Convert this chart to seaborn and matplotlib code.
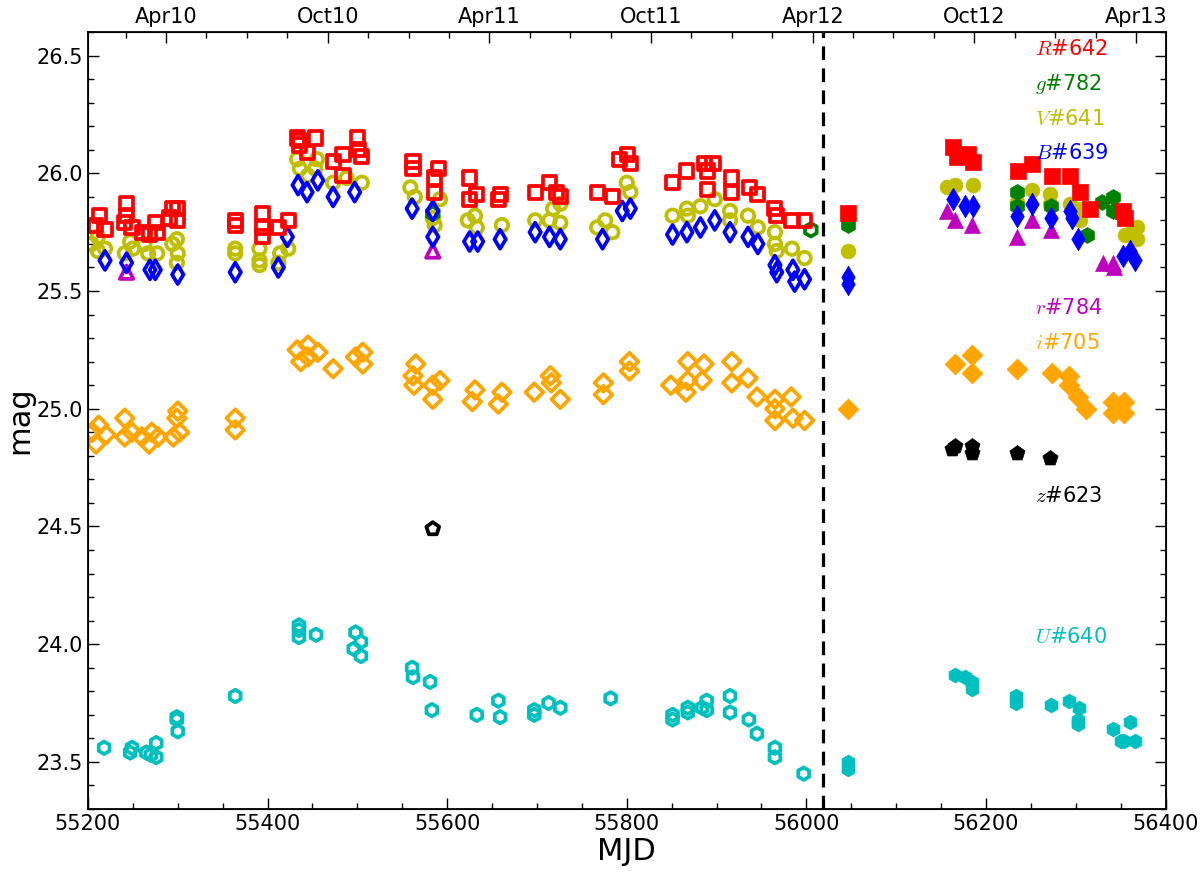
import numpy as np
import pandas as pd
import matplotlib
matplotlib.use("Agg")
import matplotlib.pyplot as plt
import seaborn as sns
from matplotlib.ticker import MultipleLocator, FixedLocator

plt.rcParams['mathtext.fontset'] = 'cm'
plt.rcParams['font.family'] = ['DejaVu Sans']

# ---------------- data ----------------
R_mjd = [55208, 55213, 55219, 55241, 55243, 55243, 55249, 55261, 55269, 55275, 55277, 55291, 55294, 55300, 55300,
         55364, 55364, 55394, 55394, 55394, 55412, 55423, 55433, 55436, 55436, 55444, 55453, 55473, 55484, 55484,
         55500, 55501, 55505, 55562, 55562, 55586, 55586, 55590, 55625, 55625, 55633, 55657, 55659, 55698, 55714,
         55722, 55726, 55767, 55784, 55792, 55801, 55804, 55851, 55867, 55887, 55890, 55890, 55896, 55917, 55917,
         55937, 55946, 55965, 55967, 55984, 55998, 56046, 56163, 56168, 56180, 56186, 56236, 56251, 56274, 56294,
         56305, 56316, 56353, 56355]
R_mag = [25.78, 25.82, 25.76, 25.79, 25.87, 25.82, 25.77, 25.75, 25.74, 25.79, 25.75, 25.81, 25.85, 25.85, 25.80,
         25.80, 25.78, 25.83, 25.77, 25.73, 25.77, 25.80, 26.15, 26.14, 26.12, 26.09, 26.15, 26.05, 26.08, 25.99,
         26.15, 26.10, 26.07, 26.05, 26.02, 25.92, 25.98, 26.02, 25.98, 25.89, 25.91, 25.89, 25.91, 25.92, 25.96,
         25.92, 25.90, 25.92, 25.90, 26.06, 26.08, 26.04, 25.96, 26.01, 26.04, 26.01, 25.93, 26.04, 25.98, 25.92,
         25.94, 25.91, 25.85, 25.82, 25.80, 25.80, 25.83, 26.11, 26.07, 26.08, 26.05, 26.01, 26.04, 25.99, 25.99,
         25.92, 25.85, 25.84, 25.81]

V_mjd = [55204, 55211, 55211, 55219, 55241, 55247, 55250, 55263, 55267, 55277, 55294, 55299, 55299, 55300,
         55364, 55364, 55391, 55391, 55391, 55412, 55414, 55423, 55433, 55436, 55445, 55453, 55455, 55473, 55488,
         55505, 55559, 55564, 55584, 55586, 55592, 55623, 55631, 55633, 55661, 55698, 55714, 55718, 55726, 55726,
         55767, 55776, 55784, 55800, 55804, 55851, 55867, 55868, 55882, 55898, 55915, 55915, 55935, 55946, 55965,
         55965, 55967, 55984, 55998, 56046, 56157, 56166, 56186, 56235, 56251, 56271, 56271, 56294, 56305, 56305,
         56355, 56363, 56368, 56368]
V_mag = [25.70, 25.67, 25.73, 25.68, 25.66, 25.71, 25.68, 25.70, 25.66, 25.66, 25.70, 25.72, 25.62, 25.66,
         25.68, 25.66, 25.68, 25.63, 25.61, 25.62, 25.66, 25.68, 26.06, 26.02, 25.99, 26.02, 26.06, 25.96, 25.98,
         25.96, 25.94, 25.90, 25.81, 25.78, 25.89, 25.80, 25.82, 25.77, 25.78, 25.80, 25.80, 25.85, 25.79, 25.87,
         25.77, 25.80, 25.75, 25.96, 25.92, 25.82, 25.85, 25.82, 25.86, 25.89, 25.84, 25.80, 25.82, 25.77, 25.75,
         25.70, 25.67, 25.68, 25.64, 25.67, 25.94, 25.95, 25.95, 25.88, 25.93, 25.91, 25.87, 25.87, 25.85, 25.80,
         25.74, 25.75, 25.77, 25.72]

B_mjd = [55219, 55243, 55269, 55275, 55300, 55364, 55412, 55422, 55434, 55444, 55456, 55473, 55497, 55561,
         55584, 55584, 55625, 55634, 55659, 55698, 55714, 55726, 55773, 55795, 55804, 55851, 55867, 55882, 55898,
         55915, 55935, 55946, 55965, 55967, 55985, 55987, 55998, 56046, 56046, 56163, 56177, 56186, 56235, 56251,
         56272, 56294, 56296, 56303, 56353, 56360, 56366]
B_mag = [25.63, 25.62, 25.59, 25.59, 25.57, 25.58, 25.60, 25.73, 25.95, 25.92, 25.97, 25.90, 25.92, 25.85,
         25.84, 25.73, 25.71, 25.71, 25.72, 25.75, 25.73, 25.72, 25.72, 25.84, 25.85, 25.74, 25.75, 25.77, 25.80,
         25.75, 25.73, 25.70, 25.61, 25.58, 25.59, 25.54, 25.55, 25.56, 25.53, 25.89, 25.86, 25.86, 25.82, 25.87,
         25.81, 25.84, 25.81, 25.72, 25.65, 25.67, 25.63]

g_mjd = [55584, 56005, 56046, 56235, 56235, 56272, 56313, 56329, 56341, 56341]
g_mag = [25.83, 25.76, 25.78, 25.92, 25.86, 25.86, 25.74, 25.88, 25.90, 25.84]

r_mjd = [55243, 55584, 56157, 56166, 56184, 56235, 56251, 56272, 56330, 56341, 56343]
r_mag = [25.58, 25.67, 25.84, 25.80, 25.78, 25.73, 25.80, 25.76, 25.62, 25.62, 25.60]

i_mjd = [55205, 55209, 55212, 55220, 55241, 55241, 55249, 55260, 55268, 55271, 55278, 55295, 55299, 55300,
         55302, 55364, 55364, 55433, 55437, 55445, 55445, 55456, 55473, 55498, 55506, 55506, 55562, 55563, 55565,
         55584, 55584, 55592, 55628, 55631, 55657, 55661, 55697, 55715, 55716, 55726, 55774, 55774, 55803, 55803,
         55849, 55866, 55868, 55868, 55884, 55886, 55917, 55917, 55935, 55945, 55965, 55965, 55965, 55983, 55985,
         55998, 56046, 56165, 56185, 56185, 56235, 56273, 56293, 56293, 56303, 56311, 56342, 56342, 56354, 56354]
i_mag = [24.90, 24.85, 24.93, 24.89, 24.96, 24.88, 24.90, 24.88, 24.85, 24.90, 24.88, 24.88, 24.96, 24.99,
         24.90, 24.96, 24.91, 25.25, 25.20, 25.27, 25.22, 25.24, 25.17, 25.22, 25.24, 25.19, 25.14, 25.10, 25.19,
         25.10, 25.04, 25.12, 25.03, 25.08, 25.02, 25.07, 25.07, 25.14, 25.11, 25.04, 25.11, 25.06, 25.20, 25.16,
         25.10, 25.07, 25.20, 25.12, 25.12, 25.19, 25.20, 25.11, 25.13, 25.05, 25.04, 25.00, 24.95, 25.05, 24.96,
         24.95, 25.00, 25.19, 25.23, 25.15, 25.17, 25.15, 25.14, 25.10, 25.05, 25.00, 25.03, 24.98, 25.03, 24.98]

z_mjd = [55584, 56162, 56165, 56185, 56185, 56235, 56271]
z_mag = [24.49, 24.83, 24.84, 24.84, 24.81, 24.81, 24.79]

U_mjd = [55218, 55247, 55249, 55265, 55270, 55276, 55276, 55299, 55299, 55300, 55364, 55435, 55435, 55435,
         55454, 55496, 55498, 55504, 55504, 55561, 55562, 55581, 55583, 55633, 55657, 55659, 55697, 55697, 55713,
         55726, 55782, 55851, 55851, 55868, 55868, 55884, 55889, 55889, 55915, 55915, 55936, 55945, 55965, 55965,
         55997, 56046, 56046, 56165, 56177, 56184, 56184, 56234, 56234, 56272, 56293, 56304, 56303, 56303, 56342,
         56360, 56354, 56366, 56350]
U_mag = [23.56, 23.54, 23.56, 23.54, 23.53, 23.58, 23.52, 23.69, 23.68, 23.63, 23.78, 24.08, 24.06, 24.03,
         24.04, 23.98, 24.05, 24.01, 23.95, 23.90, 23.86, 23.84, 23.72, 23.70, 23.76, 23.69, 23.72, 23.70, 23.75,
         23.73, 23.77, 23.70, 23.68, 23.73, 23.71, 23.73, 23.76, 23.72, 23.78, 23.71, 23.68, 23.62, 23.56, 23.52,
         23.45, 23.50, 23.47, 23.87, 23.86, 23.84, 23.81, 23.78, 23.75, 23.74, 23.76, 23.73, 23.68, 23.66, 23.64,
         23.67, 23.59, 23.59, 23.59]

band_names = ['R', 'g', 'V', 'B', 'r', 'i', 'z', 'U']
band_counts = ['642', '782', '641', '639', '784', '705', '623', '640']
label_mag = [26.53, 26.38, 26.23, 26.085, 25.43, 25.28, 24.63, 24.03]

top_labels = ['Apr10', 'Oct10', 'Apr11', 'Oct11', 'Apr12', 'Oct12', 'Apr13']
top_major_mjd = [55287, 55467, 55647, 55827, 56007, 56187, 56367]
top_minor_mjd = list(range(55242, 56400, 45))
split_mjd = 56018

# ---------------- styles ----------------
style = {
    'R': dict(mjd=R_mjd, mag=R_mag, color='#ff0000', marker='s', s=105, z=8),
    'g': dict(mjd=g_mjd, mag=g_mag, color='#008000', marker='h', s=110, z=6),
    'V': dict(mjd=V_mjd, mag=V_mag, color='#bfbf00', marker='o', s=95, z=5),
    'B': dict(mjd=B_mjd, mag=B_mag, color='#0000ff', marker='d', s=110, z=7),
    'r': dict(mjd=r_mjd, mag=r_mag, color='#bf00bf', marker='^', s=110, z=4),
    'i': dict(mjd=i_mjd, mag=i_mag, color='#ffa500', marker='D', s=95, z=3),
    'z': dict(mjd=z_mjd, mag=z_mag, color='#000000', marker='p', s=110, z=3),
    'U': dict(mjd=U_mjd, mag=U_mag, color='#00bfbf', marker='h', s=95, z=3),
}

fig = plt.figure(figsize=(12, 8.73), dpi=100)
ax = fig.add_axes([0.0733, 0.0733, 0.898, 0.890])

for name in ['U', 'z', 'i', 'r', 'V', 'g', 'B', 'R']:
    st = style[name]
    df = pd.DataFrame({'MJD': st['mjd'], 'mag': st['mag']})
    pre = df[df['MJD'] < split_mjd]
    post = df[df['MJD'] >= split_mjd]
    sns.scatterplot(data=pre, x='MJD', y='mag', ax=ax, marker=st['marker'], s=st['s'] * 0.85,
                    color=st['color'], facecolor='none', edgecolor=st['color'],
                    linewidth=2.7, zorder=st['z'])
    sns.scatterplot(data=post, x='MJD', y='mag', ax=ax, marker=st['marker'], s=st['s'] * 1.2,
                    color=st['color'], edgecolor=st['color'], linewidth=0.5, zorder=st['z'])

ax.axvline(split_mjd, color='k', ls='--', lw=2.3, dashes=(4.3, 2.6), zorder=2)

for name, cnt, ym in zip(band_names, band_counts, label_mag):
    ax.text(56255, ym, r'$%s$#%s' % (name, cnt), color=style[name]['color'],
            fontsize=15, ha='left', va='center', zorder=10)

ax.set_xlim(55200, 56400)
ax.set_ylim(23.3, 26.6)
ax.xaxis.set_major_locator(MultipleLocator(200))
ax.xaxis.set_minor_locator(MultipleLocator(50))
ax.yaxis.set_major_locator(MultipleLocator(0.5))
ax.yaxis.set_minor_locator(MultipleLocator(0.1))
ax.tick_params(which='both', direction='in', right=True, top=False, labelsize=15, width=1)
ax.tick_params(which='major', length=8)
ax.tick_params(which='minor', length=4)
ax.set_xlabel('MJD', fontsize=22, labelpad=2)
ax.set_ylabel('mag', fontsize=22, labelpad=2)
for sp in ax.spines.values():
    sp.set_linewidth(1.3)

ax2 = ax.twiny()
ax2.set_xlim(55200, 56400)
ax2.xaxis.set_major_locator(FixedLocator(top_major_mjd))
ax2.set_xticklabels(top_labels)
ax2.xaxis.set_minor_locator(FixedLocator(top_minor_mjd))
ax2.tick_params(which='both', direction='in', labelsize=15, width=1)
ax2.tick_params(which='major', length=8)
ax2.tick_params(which='minor', length=4)
ax2.set_xlabel('')

fig.savefig('out.png', dpi=100)
